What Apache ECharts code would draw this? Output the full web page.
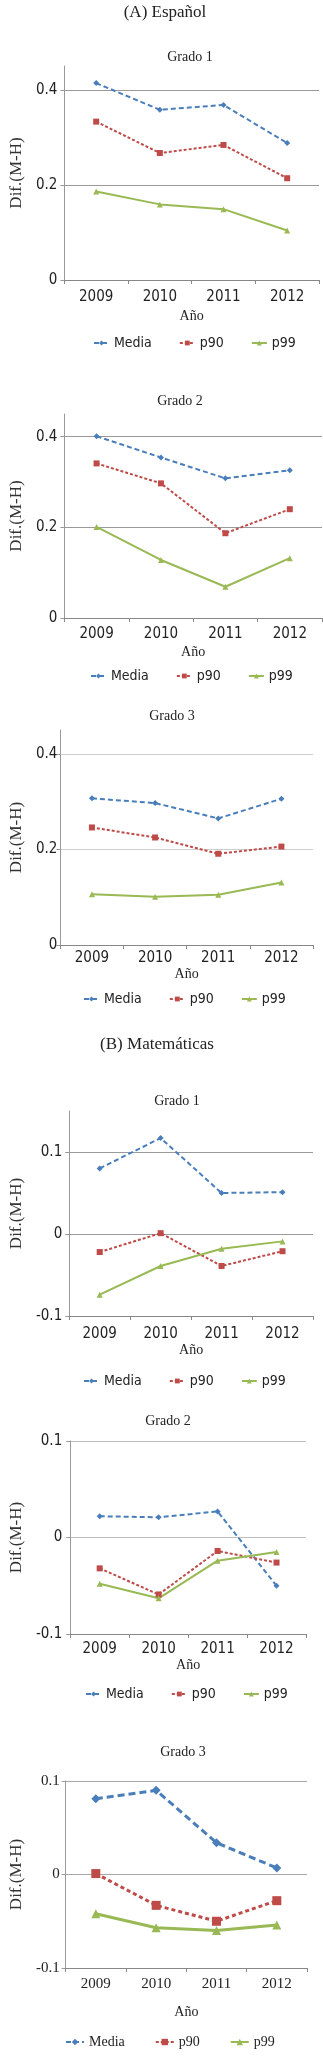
<!DOCTYPE html>
<html>
<head>
<meta charset="utf-8">
<script src="https://cdn.jsdelivr.net/npm/echarts@6/dist/echarts.min.js"></script>
<style>
  html, body { margin: 0; padding: 0; background: #fff; }
  #chart { width: 323px; height: 2060px; }
</style>
</head>
<body>
<div id="chart"></div>
<script>
var years = ['2009', '2010', '2011', '2012'];
var seriesNames = ['Media', 'p90', 'p99'];

// (A) Español
var espG1Media = [0.414, 0.358, 0.368, 0.288];
var espG1P90 = [0.333, 0.267, 0.284, 0.214];
var espG1P99 = [0.186, 0.159, 0.149, 0.104];
var espG2Media = [0.401, 0.354, 0.308, 0.326];
var espG2P90 = [0.341, 0.297, 0.187, 0.240];
var espG2P99 = [0.201, 0.128, 0.069, 0.132];
var espG3Media = [0.307, 0.297, 0.265, 0.306];
var espG3P90 = [0.246, 0.225, 0.191, 0.206];
var espG3P99 = [0.106, 0.101, 0.105, 0.131];

// (B) Matemáticas
var matG1Media = [0.080, 0.117, 0.050, 0.051];
var matG1P90 = [-0.022, 0.001, -0.039, -0.021];
var matG1P99 = [-0.074, -0.039, -0.018, -0.009];
var matG2Media = [0.022, 0.021, 0.027, -0.050];
var matG2P90 = [-0.032, -0.059, -0.014, -0.026];
var matG2P99 = [-0.048, -0.063, -0.024, -0.015];
var matG3Media = [0.081, 0.090, 0.034, 0.007];
var matG3P90 = [0.001, -0.033, -0.050, -0.028];
var matG3P99 = [-0.042, -0.057, -0.060, -0.054];

var sectionTitles = ['(A) Español', '(B) Matemáticas'];
var gradoTitles = ['Grado 1', 'Grado 2', 'Grado 3', 'Grado 1', 'Grado 2', 'Grado 3'];
var yName = 'Dif.(M-H)';
var xName = 'Año';

var SANS = '"Liberation Sans Narrow", "Arial Narrow", "DejaVu Sans Condensed", "Liberation Sans", sans-serif';
var SERIF = '"Liberation Serif", "DejaVu Serif", serif';
var colors = ['#4a7ebb', '#be4b48', '#98b954'];
var symbols = ['diamond', 'rect', 'triangle'];

// layout of each panel (pixels)
var panels = [
  { data: [espG1Media, espG1P90, espG1P99], left: 62, top: 66, width: 257, height: 214,
    min: 0, max: 0.45, interval: 0.2, titleX: 190, titleY: 50, nameGap: 36,
    xMargin: 10, xNameGap: 29, yMargin: 7, legendLeft: 93, legendTop: 336, grid: '#9a9a9a', font: SANS, big: false },
  { data: [espG2Media, espG2P90, espG2P99], left: 54, top: 414, width: 268, height: 204,
    min: 0, max: 0.45, interval: 0.2, titleX: 180, titleY: 394, nameGap: 29,
    xMargin: 9, xNameGap: 27, yMargin: 7, legendLeft: 90, legendTop: 669, grid: '#9a9a9a', font: SANS, big: false },
  { data: [espG3Media, espG3P90, espG3P99], left: 49, top: 730, width: 264, height: 215,
    min: 0, max: 0.45, interval: 0.2, titleX: 172, titleY: 709, nameGap: 33,
    xMargin: 6, xNameGap: 20, yMargin: 3, legendLeft: 83, legendTop: 992, grid: '#cfcfcf', font: SANS, big: false },
  { data: [matG1Media, matG1P90, matG1P99], left: 47, top: 1111, width: 266, height: 205,
    min: -0.1, max: 0.15, interval: 0.1, titleX: 177, titleY: 1094, nameGap: 31,
    xMargin: 11, xNameGap: 26, yMargin: 7, legendLeft: 83, legendTop: 1374, grid: '#9a9a9a', font: SANS, big: false },
  { data: [matG2Media, matG2P90, matG2P99], left: 48, top: 1441, width: 258, height: 193,
    min: -0.1, max: 0.1, interval: 0.1, titleX: 168, titleY: 1414, nameGap: 32,
    xMargin: 8, xNameGap: 23, yMargin: 8, legendLeft: 85, legendTop: 1687, grid: '#bdbdbd', font: SANS, big: false },
  { data: [matG3Media, matG3P90, matG3P99], left: 48, top: 1781, width: 259, height: 187,
    min: -0.1, max: 0.1, interval: 0.1, titleX: 183, titleY: 1745, nameGap: 31,
    xMargin: 9, xNameGap: 37, yMargin: 6, legendLeft: 65, legendTop: 2035, grid: '#a8a8a8', font: SERIF, big: true }
];

var chart = echarts.init(document.getElementById('chart'));

var titles = [
  { text: sectionTitles[0], left: 165, top: 4, textAlign: 'center', padding: 0,
    textStyle: { fontFamily: SERIF, fontSize: 17, fontWeight: 'normal', color: '#222' } },
  { text: sectionTitles[1], left: 157, top: 1036, textAlign: 'center', padding: 0,
    textStyle: { fontFamily: SERIF, fontSize: 17, fontWeight: 'normal', color: '#222' } }
];
var grids = [], xAxes = [], yAxes = [], legends = [], series = [];

panels.forEach(function (p, i) {
  titles.push({
    text: gradoTitles[i], left: p.titleX, top: p.titleY, textAlign: 'center', padding: 0,
    textStyle: { fontFamily: SERIF, fontSize: 14, fontWeight: 'normal', color: '#222' }
  });
  grids.push({ left: p.left, top: p.top, width: p.width, height: p.height });
  xAxes.push({
    gridIndex: i,
    type: 'category',
    data: years,
    boundaryGap: true,
    name: xName,
    nameLocation: 'middle',
    nameGap: p.xNameGap,
    nameTextStyle: { fontFamily: SERIF, fontSize: 14, color: '#222' },
    axisLine: { onZero: false, lineStyle: { color: '#888', width: 1 } },
    axisTick: { show: true, interval: 0, length: 4, lineStyle: { color: '#888' } },
    axisLabel: { margin: p.xMargin, fontFamily: p.font, fontSize: 15, color: '#222' },
    splitLine: { show: false }
  });
  yAxes.push({
    gridIndex: i,
    type: 'value',
    min: p.min,
    max: p.max,
    interval: p.interval,
    name: yName,
    nameLocation: 'middle',
    nameGap: p.nameGap,
    nameTextStyle: { fontFamily: SERIF, fontSize: 17, color: '#333' },
    axisLine: { show: true, lineStyle: { color: '#999', width: 1 } },
    axisTick: { show: true, length: 4, lineStyle: { color: '#999' } },
    axisLabel: {
      margin: p.yMargin, fontFamily: p.font, fontSize: 15, color: '#222', showMaxLabel: p.max === 0.1,
      formatter: function (v) { return String(Math.round(v * 100) / 100); }
    },
    splitLine: { show: true, showMaxLine: p.max === 0.1, lineStyle: { color: p.grid, width: 1 } }
  });
  legends.push({
    data: seriesNames,
    left: p.legendLeft,
    top: p.legendTop,
    orient: 'horizontal',
    itemWidth: p.big ? 18 : 15,
    itemHeight: p.big ? 8 : 6,
    itemGap: p.big ? 30 : 27,
    padding: 0,
    textStyle: { fontFamily: p.font, fontSize: 14, color: '#222' }
  });
  p.data.forEach(function (vals, k) {
    var dash = k === 0 ? (p.big ? [7, 4] : [5, 3]) : (k === 1 ? (p.big ? [4, 3] : [3, 2]) : 'solid');
    series.push({
      name: seriesNames[k],
      type: 'line',
      xAxisIndex: i,
      yAxisIndex: i,
      data: vals,
      symbol: symbols[k],
      symbolSize: p.big ? 9 : 6,
      showSymbol: true,
      animation: false,
      itemStyle: { color: colors[k] },
      lineStyle: { color: colors[k], width: p.big ? 3 : 2, type: dash }
    });
  });
});

chart.setOption({
  animation: false,
  title: titles,
  grid: grids,
  xAxis: xAxes,
  yAxis: yAxes,
  legend: legends,
  series: series
});
</script>
</body>
</html>
